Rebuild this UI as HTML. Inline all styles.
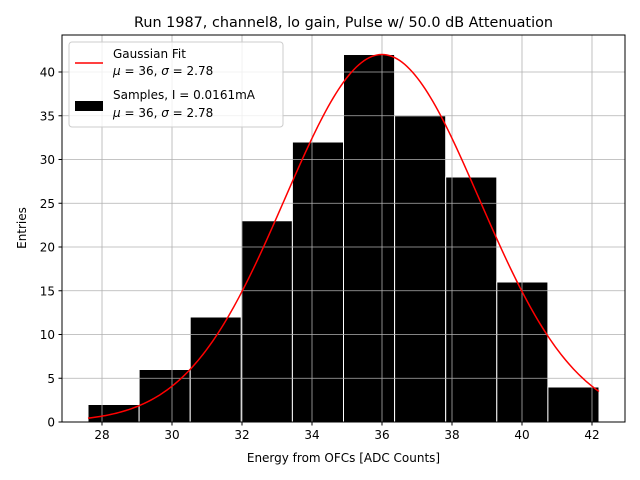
<!DOCTYPE html>
<html><head><meta charset="utf-8"><style>
body{margin:0;background:#fff;}
svg{display:block;font-family:"DejaVu Sans","Liberation Sans",sans-serif;}
</style></head><body>
<svg id="chart" width="640" height="480" xmlns="http://www.w3.org/2000/svg">
<rect width="640" height="480" fill="#fff"/>
<g id="bars"></g>
<g id="grid"></g>
<g id="curve"></g>
<rect x="62" y="35" width="563" height="387" fill="none" stroke="#000" stroke-width="1"/>
<g id="ticks" font-size="12" fill="#000"></g>
<text x="343.5" y="27" font-size="14.4" text-anchor="middle">Run 1987, channel8, lo gain, Pulse w/ 50.0 dB Attenuation</text>
<text x="343.5" y="462" font-size="12" text-anchor="middle">Energy from OFCs [ADC Counts]</text>
<text transform="translate(26,228) rotate(-90)" font-size="12" text-anchor="middle">Entries</text>
<g>
<rect x="69" y="42" width="214" height="85" rx="3" fill="#fff" fill-opacity="0.8" stroke="#ccc"/>
<line x1="75" y1="63" x2="103" y2="63" stroke="red" stroke-width="1.5"/>
<text x="113" y="58" font-size="12">Gaussian Fit</text>
<text x="113" y="75" font-size="12"><tspan font-style="italic">μ</tspan> = 36, <tspan font-style="italic">σ</tspan> = 2.78</text>
<rect x="75" y="101" width="28" height="10" fill="#000"/>
<text x="113" y="99" font-size="12">Samples, I = 0.0161mA</text>
<text x="113" y="117" font-size="12"><tspan font-style="italic">μ</tspan> = 36, <tspan font-style="italic">σ</tspan> = 2.78</text>
</g>
</svg>
<script>
const binStart = 27.6;
const binWidth = 1.46;
const counts = [2, 6, 12, 23, 32, 42, 35, 28, 16, 4];
const fitMu = [36];
const fitSigma = [2.78];
const fitAmp = [42];
const xTicks = [28, 30, 32, 34, 36, 38, 40, 42];
const yTicks = [0, 5, 10, 15, 20, 25, 30, 35, 40];

const NS = "http://www.w3.org/2000/svg";
const X0 = 62, X1 = 625, Y0 = 422, Y1 = 35;
const xMin = 26.857, xMax = 42.943, yMin = 0, yMax = 44.23;
const sx = v => X0 + (v - xMin) / (xMax - xMin) * (X1 - X0);
const sy = v => Y0 - (v - yMin) / (yMax - yMin) * (Y0 - Y1);
function mk(tag, attrs, parent) {
  const e = document.createElementNS(NS, tag);
  for (const k in attrs) e.setAttribute(k, attrs[k]);
  parent.appendChild(e); return e;
}
const grid = document.getElementById('grid');
const ticks = document.getElementById('ticks');
xTicks.forEach(t => {
  const x = sx(t);
  const g = mk('line', {x1: x, x2: x, y1: Y1, y2: Y0, stroke: '#b0b0b0', 'stroke-width': 0.8}, grid);
  
  
  mk('line', {x1: x, x2: x, y1: Y0, y2: Y0 + 3.5, stroke: '#000'}, ticks);
  const tx = mk('text', {x: x, y: Y0 + 17, 'text-anchor': 'middle'}, ticks);
  tx.textContent = t;
  
  
});
yTicks.forEach(t => {
  const y = sy(t);
  const g = mk('line', {x1: X0, x2: X1, y1: y, y2: y, stroke: '#b0b0b0', 'stroke-width': 0.8}, grid);
  
  
  mk('line', {x1: X0 - 3.5, x2: X0, y1: y, y2: y, stroke: '#000'}, ticks);
  const tx = mk('text', {x: X0 - 7, y: y + 4.5, 'text-anchor': 'end'}, ticks);
  tx.textContent = t;
  
  
});
const bars = document.getElementById('bars');
counts.forEach((c, i) => {
  const a = binStart + i * binWidth, b = a + binWidth;
  const r = mk('rect', {x: sx(a), y: sy(c), width: sx(b) - sx(a), height: sy(0) - sy(c), fill: '#000', stroke: '#fff', 'stroke-width': 1}, bars);
  
  
});
const pts = [];
const lo = binStart, hi = binStart + counts.length * binWidth;
for (let i = 0; i <= 200; i++) {
  const v = lo + (hi - lo) * i / 200;
  const f = fitAmp[0] * Math.exp(-Math.pow(v - fitMu[0], 2) / (2 * fitSigma[0] * fitSigma[0]));
  pts.push(sx(v).toFixed(2) + ',' + sy(f).toFixed(2));
}
const p = mk('polyline', {points: pts.join(' '), fill: 'none', stroke: 'red', 'stroke-width': 1.5}, document.getElementById('curve'));


</script>
</body></html>
